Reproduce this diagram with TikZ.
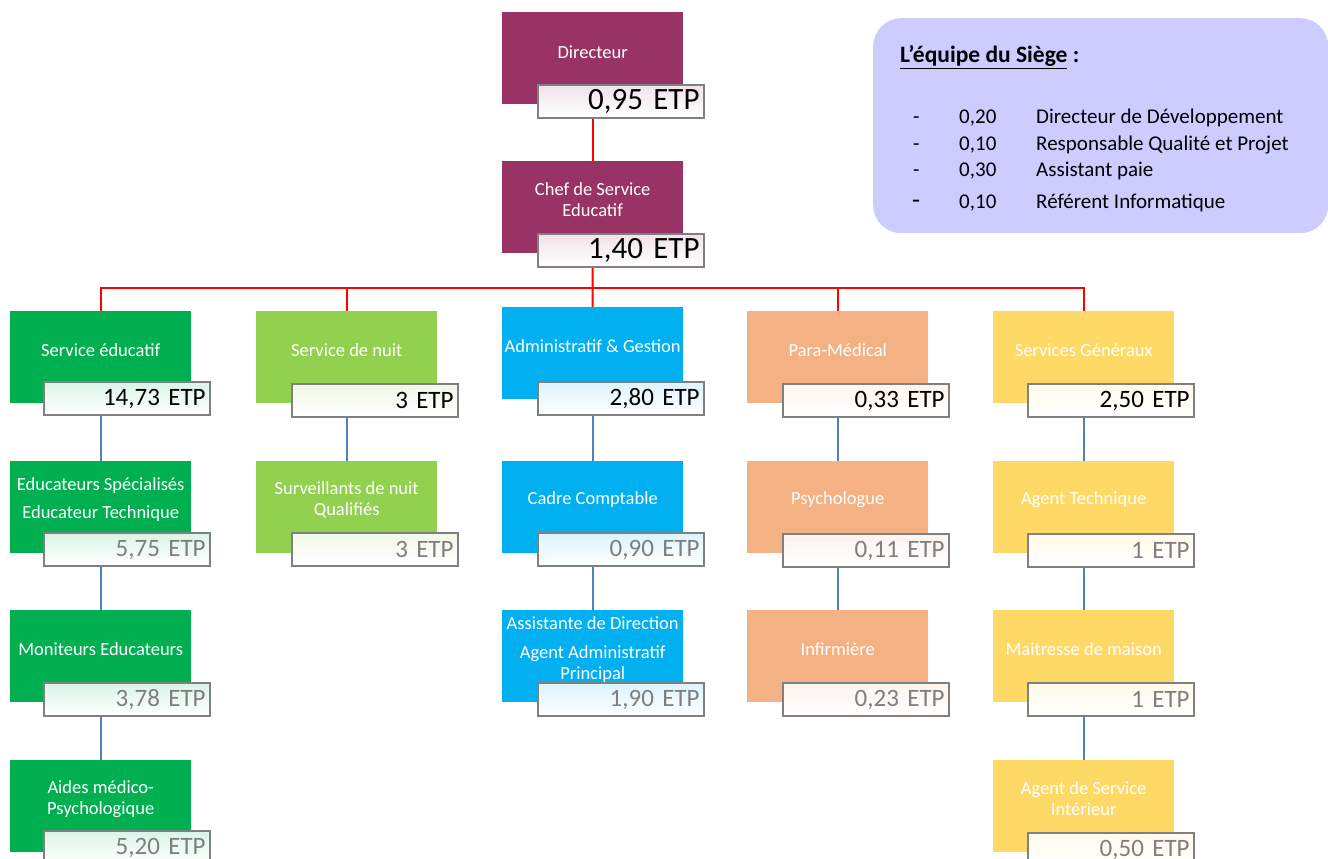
\documentclass[tikz,border=0pt]{standalone}
\usepackage{fontspec}
\setmainfont{Carlito}
\definecolor{cmaroon}{HTML}{993366}
\definecolor{cgreen}{HTML}{00B050}
\definecolor{clgreen}{HTML}{92D050}
\definecolor{cblue}{HTML}{00B0F0}
\definecolor{corange}{HTML}{F4B183}
\definecolor{cyellow}{HTML}{FFD966}
\definecolor{clav}{HTML}{CCCCFF}
\definecolor{etpgray}{HTML}{808080}
\definecolor{etptext}{HTML}{7F7F7F}
\definecolor{linkblue}{HTML}{4F81BD}
\begin{document}
\begin{tikzpicture}[x=1pt,y=-1pt,
  box/.style={anchor=north west, minimum width=181pt, minimum height=92pt, inner sep=0pt, draw=none},
  title/.style={text=white, align=center, inner sep=0pt, font=\fontsize{18.5}{21}\selectfont},
  etp/.style={anchor=north west, minimum width=166pt, minimum height=33pt, draw=etpgray, line width=2.2pt,
     inner sep=0pt, text width=157pt, align=right, font=\fontsize{25}{25}\selectfont, top color=#1!14, bottom color=white, middle color=#1!7},
  etpbig/.style={etp=#1, font=\fontsize{31}{31}\selectfont},
  redline/.style={draw=red, line width=2pt},
  blueline/.style={draw=linkblue, line width=2pt},
  legtext/.style={anchor=base west, inner sep=0pt, font=\fontsize{21}{21}\selectfont},
]
\useasboundingbox (0,0) rectangle (1328,859);

% legend
\node[anchor=north west, minimum width=455pt, minimum height=215pt, rounded corners=28pt, fill=clav, inner sep=0pt] (leg) at (873,18) {};
\node[legtext, font=\fontsize{23.5}{24}\selectfont\bfseries] (legT) at (900,63) {\underline{L’équipe du Siège} :};
\node[legtext] (d1) at (913,123) {-};
\node[legtext] (d2) at (913,150) {-};
\node[legtext] (d3) at (913,176) {-};
\node[legtext, font=\fontsize{26}{26}\selectfont] (d4) at (912,208) {-};
\node[legtext] (n1) at (959,123) {0,20};
\node[legtext] (n2) at (959,150) {0,10};
\node[legtext] (n3) at (959,176) {0,30};
\node[legtext] (n4) at (959,208) {0,10};
\node[legtext] (l1) at (1036,123) {Directeur de Développement};
\node[legtext] (l2) at (1036,150) {Responsable Qualité et Projet};
\node[legtext] (l3) at (1036,176) {Assistant paie};
\node[legtext] (l4) at (1036,208) {Référent Informatique};

% main boxes
\node[box, fill=cmaroon] (dir) at (502,12) {};
\node[box, fill=cmaroon] (chef) at (502,161) {};

\node[box, fill=cgreen] (se) at (10,311) {};
\node[box, fill=cgreen] (es) at (10,461) {};
\node[box, fill=cgreen] (me) at (10,610) {};
\node[box, fill=cgreen] (amp) at (10,760) {};

\node[box, fill=clgreen] (sn) at (256,311) {};
\node[box, fill=clgreen] (snq) at (256,461) {};

\node[box, fill=cblue] (adm) at (502,307) {};
\node[box, fill=cblue] (cc) at (502,461) {};
\node[box, fill=cblue] (ad) at (502,610) {};

\node[box, fill=corange] (pm) at (747,311) {};
\node[box, fill=corange] (psy) at (747,461) {};
\node[box, fill=corange] (inf) at (747,610) {};

\node[box, fill=cyellow] (sg) at (993,311) {};
\node[box, fill=cyellow] (at) at (993,461) {};
\node[box, fill=cyellow] (mm) at (993,610) {};
\node[box, fill=cyellow] (asi) at (993,760) {};

% titles
\node[title] (dirT) at ([yshift=-40pt]dir.north) {Directeur};
\node[title] (chefT) at ([yshift=-39pt]chef.north) {Chef de Service\\Educatif};
\node[title] (seT) at ([yshift=-39pt]se.north) {Service éducatif};
\node[title] (esT) at ([yshift=-39pt]es.north) {Educateurs Spécialisés\\[7pt]Educateur Technique};
\node[title] (meT) at ([yshift=-39pt]me.north) {Moniteurs Educateurs};
\node[title] (ampT) at ([yshift=-39pt]amp.north) {Aides médico-\\Psychologique};
\node[title] (snT) at ([yshift=-39pt]sn.north) {Service de nuit};
\node[title] (snqT) at ([yshift=-39pt]snq.north) {Surveillants de nuit\\Qualifiés};
\node[title] (admT) at ([yshift=-39pt]adm.north) {Administratif \& Gestion};
\node[title] (ccT) at ([yshift=-39pt]cc.north) {Cadre Comptable};
\node[title, anchor=north] (adT) at ([yshift=-6pt]ad.north) {Assistante de Direction\\[8pt]Agent Administratif\\Principal};
\node[title] (pmT) at ([yshift=-39pt]pm.north) {Para-Médical};
\node[title] (psyT) at ([yshift=-39pt]psy.north) {Psychologue};
\node[title] (infT) at ([yshift=-39pt]inf.north) {Infirmière};
\node[title] (sgT) at ([yshift=-39pt]sg.north) {Services Généraux};
\node[title] (atT) at ([yshift=-39pt]at.north) {Agent Technique};
\node[title] (mmT) at ([yshift=-39pt]mm.north) {Maitresse de maison};
\node[title] (asiT) at ([yshift=-39pt]asi.north) {Agent de Service\\Intérieur};

% connectors
\coordinate (bus) at (592.5,288);
\draw[redline] (dir.south) -- (chef.north);
\draw[redline] (chef.south) -- (bus);
\draw[redline] (se.north) |- (bus);
\draw[redline] (sn.north) |- (bus);
\draw[redline] (adm.north) -- (bus);
\draw[redline] (pm.north) |- (bus);
\draw[redline] (sg.north) |- (bus);

\draw[blueline] (se.south) -- (es.north);
\draw[blueline] (es.south) -- (me.north);
\draw[blueline] (me.south) -- (amp.north);
\draw[blueline] (sn.south) -- (snq.north);
\draw[blueline] (adm.south) -- (cc.north);
\draw[blueline] (cc.south) -- (ad.north);
\draw[blueline] (pm.south) -- (psy.north);
\draw[blueline] (psy.south) -- (inf.north);
\draw[blueline] (sg.south) -- (at.north);
\draw[blueline] (at.south) -- (mm.north);
\draw[blueline] (mm.south) -- (asi.north);

% ETP boxes
\node[etpbig=cmaroon] (dirE) at ([xshift=35pt,yshift=-72pt]dir.north west) {0,95 ETP};
\node[etpbig=cmaroon] (chefE) at ([xshift=35pt,yshift=-72pt]chef.north west) {1,40 ETP};

\node[etp=cgreen] (seE) at ([xshift=33pt,yshift=-70pt]se.north west) {14,73 ETP};
\node[etp=cgreen, text=etptext] (esE) at ([xshift=33pt,yshift=-71pt]es.north west) {5,75 ETP};
\node[etp=cgreen, text=etptext] (meE) at ([xshift=33pt,yshift=-72pt]me.north west) {3,78 ETP};
\node[etp=cgreen, text=etptext] (ampE) at ([xshift=33pt,yshift=-70pt]amp.north west) {5,20 ETP};

\node[etp=clgreen] (snE) at ([xshift=35pt,yshift=-72pt]sn.north west) {3 ETP};
\node[etp=clgreen, text=etptext] (snqE) at ([xshift=35pt,yshift=-71pt]snq.north west) {3 ETP};

\node[etp=cblue] (admE) at ([xshift=35pt,yshift=-74pt]adm.north west) {2,80 ETP};
\node[etp=cblue, text=etptext] (ccE) at ([xshift=35pt,yshift=-71pt]cc.north west) {0,90 ETP};
\node[etp=cblue, text=etptext] (adE) at ([xshift=35pt,yshift=-72pt]ad.north west) {1,90 ETP};

\node[etp=corange] (pmE) at ([xshift=35pt,yshift=-72pt]pm.north west) {0,33 ETP};
\node[etp=corange, text=etptext] (psyE) at ([xshift=35pt,yshift=-72pt]psy.north west) {0,11 ETP};
\node[etp=corange, text=etptext] (infE) at ([xshift=35pt,yshift=-72pt]inf.north west) {0,23 ETP};

\node[etp=cyellow] (sgE) at ([xshift=34pt,yshift=-72pt]sg.north west) {2,50 ETP};
\node[etp=cyellow, text=etptext] (atE) at ([xshift=34pt,yshift=-72pt]at.north west) {1 ETP};
\node[etp=cyellow, text=etptext] (mmE) at ([xshift=34pt,yshift=-72pt]mm.north west) {1 ETP};
\node[etp=cyellow, text=etptext] (asiE) at ([xshift=34pt,yshift=-72pt]asi.north west) {0,50 ETP};
\end{tikzpicture}
\end{document}
